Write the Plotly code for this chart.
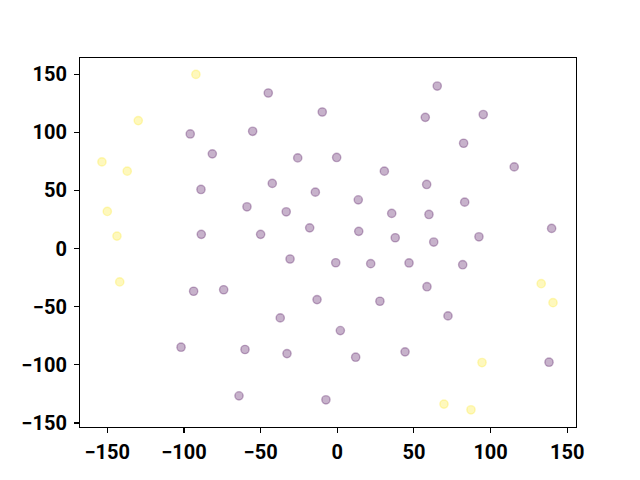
import plotly.graph_objects as go

# Data
x_purple = [-45.0, -9.8, -95.9, -55.2, -81.5, -25.8, -42.4, -14.3, -88.9, -58.9,
            -33.3, -18.0, -88.7, -50.0, 65.2, 57.4, 95.2, 82.4, -0.4, 115.4,
            30.7, 58.3, 13.7, 83.1, 35.5, 59.8, 14.0, 37.8, 62.9, 92.4,
            139.8, -30.8, -93.7, -74.1, -13.2, -37.2, -101.9, -60.2, -32.8, -64.1,
            -7.4, -1.0, 21.8, 46.8, 81.8, 58.5, 27.8, 72.2, 2.0, 12.0,
            44.2, 138.1]
y_purple = [133.7, 117.4, 98.5, 100.8, 81.4, 77.9, 56.0, 48.5, 50.8, 35.9,
            31.6, 17.8, 12.2, 12.2, 139.7, 112.8, 115.2, 90.5, 78.3, 70.2,
            66.5, 55.1, 41.9, 39.9, 30.2, 29.3, 14.8, 9.3, 5.6, 10.1,
            17.3, -9.0, -36.7, -35.4, -43.9, -59.6, -84.8, -86.8, -90.3, -126.6,
            -130.0, -12.2, -13.0, -12.4, -13.9, -32.8, -45.3, -57.9, -70.5, -93.4,
            -88.8, -97.7]
x_yellow = [-92.2, -129.8, -153.5, -137.0, -150.0, -143.7, -141.9, 133.0, 140.7,
            94.4, 69.6, 87.2]
y_yellow = [149.7, 110.0, 74.5, 66.5, 31.9, 10.7, -28.7, -30.2, -46.5,
            -98.0, -133.7, -138.6]

x_ticks = [-150, -100, -50, 0, 50, 100, 150]
y_ticks = [-150, -100, -50, 0, 50, 100, 150]

purple = "rgba(68,1,84,0.3)"
yellow = "rgba(253,231,37,0.3)"

fig = go.Figure()
fig.add_trace(go.Scatter(
    x=x_purple, y=y_purple, mode="markers",
    marker=dict(size=8.3, color=purple, line=dict(color=purple, width=1.4)),
    showlegend=False, hoverinfo="skip"))
fig.add_trace(go.Scatter(
    x=x_yellow, y=y_yellow, mode="markers",
    marker=dict(size=8.3, color=yellow, line=dict(color=yellow, width=1.4)),
    showlegend=False, hoverinfo="skip"))

tickfont = dict(family="Roboto", size=20, weight="bold", color="black")
axis_common = dict(
    showgrid=False, zeroline=False, showline=True, mirror=True,
    linecolor="black", linewidth=1.1, ticks="outside", ticklen=5,
    tickwidth=1.1, tickcolor="black", tickfont=tickfont, automargin=False,
)
fig.update_xaxes(range=[-167.8, 155.7], tickvals=x_ticks,
                 ticktext=[str(v).replace("-", "\u2212") for v in x_ticks],
                 ticklabelstandoff=2, **axis_common)
fig.update_yaxes(range=[-153.4, 163.8], tickvals=y_ticks,
                 ticktext=[str(v).replace("-", "\u2212") for v in y_ticks],
                 ticklabelstandoff=3, **axis_common)
fig.update_layout(
    width=640, height=480,
    margin=dict(l=80, r=64, t=58, b=53, pad=0),
    paper_bgcolor="white", plot_bgcolor="white",
)
fig.write_html("out.html",
               config={"displayModeBar": False, "staticPlot": True},
               post_script="document.body.style.margin='0';document.body.style.padding='0';")
